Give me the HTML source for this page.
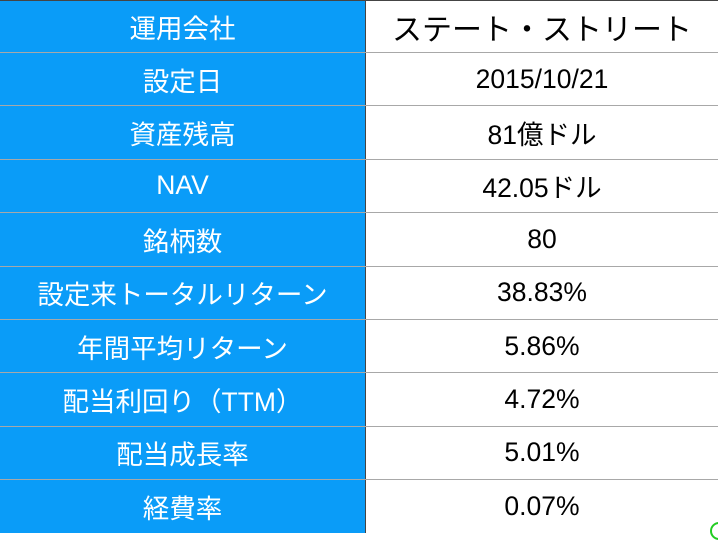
<!DOCTYPE html><html><head><meta charset="utf-8"><style>
body{margin:0;width:718px;height:532px;overflow:hidden;background:#fff;font-family:"Liberation Sans","Noto Sans CJK JP",sans-serif}
.t{position:absolute;left:0;top:0;width:718px;border-top:1px solid #444}
.r{position:relative;height:52.4px;border-bottom:1px solid #a8a8a8;display:flex}
.l{width:365px;background:#0a9cf8;color:#fff;font-size:26.5px;display:flex;align-items:center;justify-content:center;border-right:1px solid #444}
.v{flex:1;color:#000;font-size:26.5px;display:flex;align-items:center;justify-content:center}
</style></head><body><div class="t">
<div class="r" style="height:51px"><div class="l">運用会社</div><div class="v" style="font-size:30px">ステート・ストリート</div></div>
<div class="r"><div class="l">設定日</div><div class="v">2015/10/21</div></div>
<div class="r"><div class="l">資産残高</div><div class="v">81億ドル</div></div>
<div class="r"><div class="l">NAV</div><div class="v">42.05ドル</div></div>
<div class="r"><div class="l">銘柄数</div><div class="v">80</div></div>
<div class="r"><div class="l">設定来トータルリターン</div><div class="v">38.83%</div></div>
<div class="r"><div class="l">年間平均リターン</div><div class="v">5.86%</div></div>
<div class="r"><div class="l">配当利回り（TTM）</div><div class="v">4.72%</div></div>
<div class="r"><div class="l">配当成長率</div><div class="v">5.01%</div></div>
<div class="r" style="height:53px;border-bottom:none"><div class="l">経費率</div><div class="v">0.07%</div></div>
</div>
<div style="position:absolute;left:710px;top:522px;width:14px;height:14px;border:2px solid #2c2;border-radius:50%"></div>
</body></html>
